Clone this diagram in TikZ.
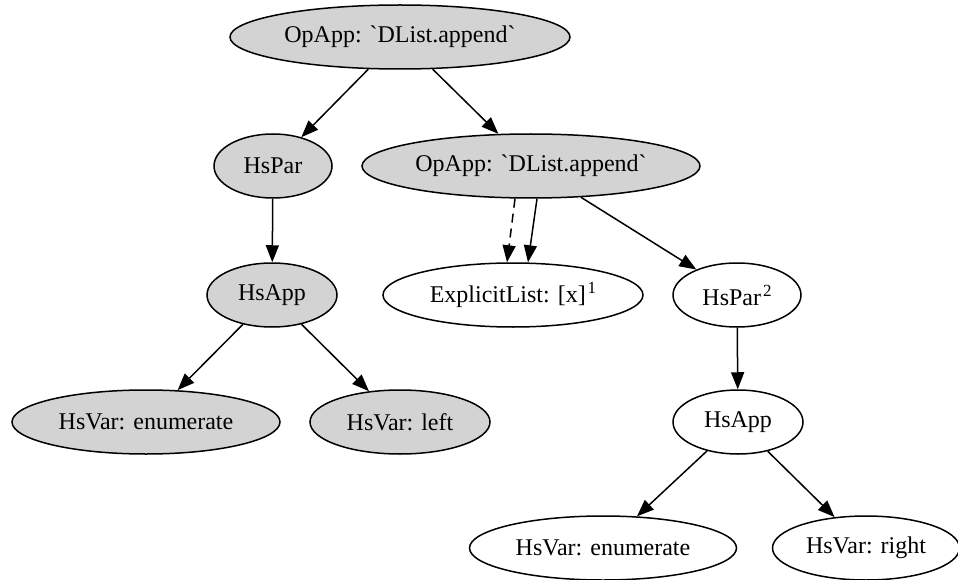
\documentclass[tikz,border=0pt]{standalone}
\usepackage{fontspec}
\setmainfont{Liberation Serif}
\newfontfamily\astfont{Liberation Serif}
\usepackage{tikz}
\usetikzlibrary{shapes.geometric, arrows.meta}

\newcommand{\tick}{\char96}
\newcommand{\nodemark}[1]{\kern2pt\raisebox{9pt}{\fontsize{17}{17}\selectfont #1}}

\begin{document}
\begin{tikzpicture}[
            x=1pt, y=-1pt,
            astnode/.style={ellipse, draw, line width=1.5pt, fill=astgray, inner sep=0pt,
                minimum height=64pt, font=\astfont\fontsize{24}{28}\selectfont},
            astfresh/.style={astnode, fill=white},
            edge/.style={line width=1.5pt, -{Triangle[length=17pt, width=13pt]}}
        ]
            \definecolor{astgray}{HTML}{D3D3D3}
            \useasboundingbox (0,0) rectangle (958,580);

            \node[astnode, minimum width=340pt] (top) at (400,37) {OpApp: \tick DList.append\tick};
            \node[astnode, minimum width=118pt] (par) at (273,166) {HsPar};
            \node[astnode, minimum width=338pt] (opapp) at (531,166) {OpApp: \tick DList.append\tick};
            \node[astnode, minimum width=130pt] (app) at (272,295) {HsApp};
            \node[astfresh, minimum width=260pt] (list) at (513,295) {ExplicitList: [x]\nodemark{1}};
            \node[astfresh, minimum width=128pt] (parb) at (737,295) {HsPar\nodemark{2}};
            \node[astnode, minimum width=268pt] (enum) at (146,422) {HsVar: enumerate};
            \node[astnode, minimum width=180pt] (left) at (400,422) {HsVar: left};
            \node[astfresh, minimum width=130pt] (appb) at (738,422) {HsApp};
            \node[astfresh, minimum width=267pt] (enumb) at (603,548) {HsVar: enumerate};
            \node[astfresh, minimum width=187pt] (right) at (866,548) {HsVar: right};

            \draw[edge] (top) -- (par);
            \draw[edge] (top) -- (opapp);
            \draw[edge] (par) -- (app);
            \draw[edge] (app) -- (enum);
            \draw[edge] (app) -- (left);
            \draw[edge, dash pattern=on 9pt off 6pt] ([xshift=-16pt]opapp.south) -- ([xshift=-6pt]list.north);
            \draw[edge] ([xshift=6pt]opapp.south) -- ([xshift=15pt]list.north);
            \draw[edge] (opapp) -- (parb);
            \draw[edge] (parb) -- (appb);
            \draw[edge] (appb) -- (enumb);
            \draw[edge] (appb) -- (right);
        \end{tikzpicture}
\end{document}
